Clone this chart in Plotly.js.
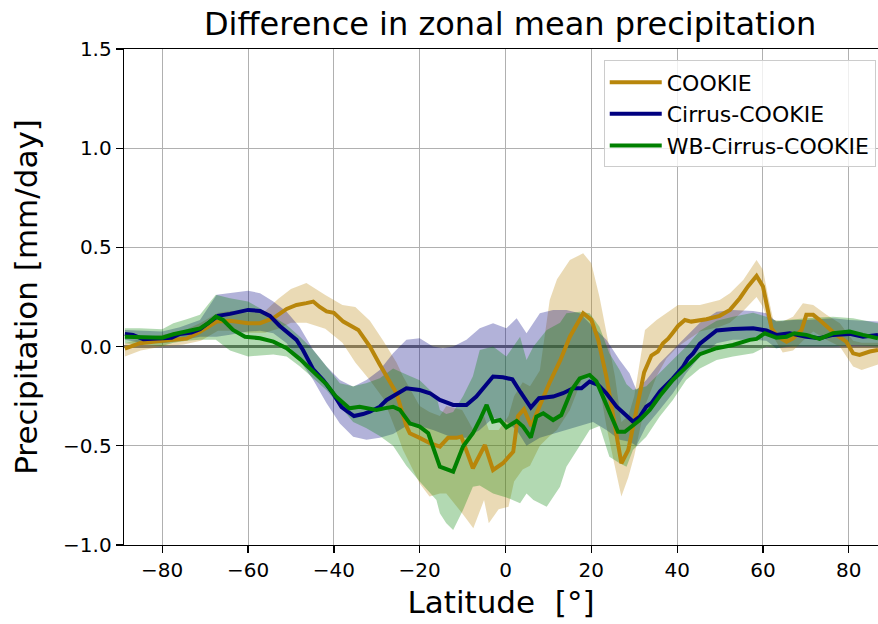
<!DOCTYPE html>
<html>
<head>
<meta charset="utf-8">
<script src="https://cdn.plot.ly/plotly-3.0.1.min.js"></script>
<style>html,body{margin:0;padding:0;background:#fff;}#chart{width:878px;height:624px;}</style>
</head>
<body>
<div id="chart"></div>
<script>
// ---------- DATA ----------
const seriesNames = ["COOKIE", "Cirrus-COOKIE", "WB-Cirrus-COOKIE"];

// COOKIE mean
const latCookie = [-88.7,-85.2,-80,-74.3,-71.2,-67.3,-64.2,-60,-57.2,-54.1,-51,-48.7,-46.4,-44.8,-43.3,-41.7,-40,-37.8,-34.3,-31.6,-29.3,-25.4,-23.1,-22.3,-20,-17.6,-15.3,-13.4,-11.4,-10.3,-7.6,-4.8,-2.9,-0.6,1.8,2.9,4.3,6.0,8.0,10.3,12.8,15.0,18.1,20.0,21.6,23.5,25.5,27.0,28.6,29.7,32.3,34.0,35.5,36.7,37.9,39.0,40.2,41.8,43.3,46.8,49.9,52.3,54.6,56.5,58.5,60.0,61.2,62.0,63.5,65.5,67.0,69.0,70.1,71.7,73.2,75.2,77.1,79.4,81.0,82.5,84.9,86.8];
const valCookie = [-0.01,0.017,0.03,0.04,0.075,0.126,0.13,0.118,0.118,0.143,0.19,0.21,0.219,0.227,0.2,0.177,0.17,0.126,0.084,0.0,-0.09,-0.235,-0.40,-0.437,-0.46,-0.487,-0.504,-0.46,-0.46,-0.454,-0.613,-0.496,-0.622,-0.588,-0.53,-0.35,-0.315,-0.40,-0.297,-0.18,-0.067,0.05,0.168,0.135,0.034,-0.151,-0.40,-0.588,-0.521,-0.40,-0.13,-0.045,-0.025,0.017,0.04,0.07,0.104,0.134,0.126,0.138,0.155,0.185,0.244,0.303,0.356,0.303,0.185,0.092,0.05,0.025,0.042,0.084,0.16,0.16,0.134,0.092,0.059,0.025,-0.034,-0.042,-0.025,-0.017];

// Cirrus-COOKIE mean
const latCirrus = [-88.7,-86.8,-84.4,-80,-77.8,-75.9,-73.2,-71.2,-68.9,-67.0,-64.2,-60,-57.2,-54.9,-52.6,-50.3,-48.7,-47.2,-44.8,-42.5,-40.2,-38.2,-35.3,-33.2,-31.6,-29.3,-27.7,-23.1,-20,-17.6,-15.3,-12.2,-9.1,-6.8,-4.8,-2.9,-0.6,1.6,3.5,5.9,7.8,9.9,11.1,13.4,15.8,17.7,19.6,21.6,23.5,25.9,28.2,29.7,31.3,32.8,34.0,36.0,39.0,41.4,42.5,43.7,45.3,49.2,53.0,57.7,60.8,63.1,66.2,70.1,73.2,76.3,80.2,83.3,86.8];
const valCirrus = [0.064,0.059,0.037,0.039,0.045,0.064,0.071,0.087,0.121,0.155,0.165,0.185,0.18,0.155,0.104,0.059,0.034,-0.017,-0.115,-0.168,-0.235,-0.305,-0.35,-0.34,-0.328,-0.303,-0.269,-0.21,-0.219,-0.235,-0.269,-0.294,-0.294,-0.252,-0.202,-0.151,-0.155,-0.165,-0.23,-0.307,-0.26,-0.252,-0.252,-0.235,-0.21,-0.21,-0.176,-0.193,-0.235,-0.303,-0.345,-0.378,-0.353,-0.303,-0.285,-0.225,-0.16,-0.10,-0.06,-0.034,0.015,0.081,0.089,0.092,0.081,0.059,0.067,0.05,0.042,0.059,0.064,0.05,0.059];

// WB-Cirrus-COOKIE mean
const latWB = [-88.7,-85.2,-80,-77.4,-74.3,-71.2,-69.3,-67.5,-65.8,-63.5,-60.7,-57.2,-54.1,-51,-47.9,-44.8,-41.7,-39.5,-36.4,-34.0,-32.5,-30.1,-28.0,-26.2,-24.6,-22.3,-20,-18.0,-15.3,-12.2,-9.9,-7.6,-6.0,-4.4,-2.9,-1.3,0.2,2.6,4.1,5.9,7.2,8.8,11.1,13.0,15.4,17.3,19.6,21.2,22.7,24.7,26.2,27.8,29.7,31.3,33.6,36.0,39.0,42.2,45.3,49.2,53.0,56.9,58.5,60.4,63.1,65.5,67.3,70.1,73.2,76.3,80.2,83.3,86.8];
const valWB = [0.05,0.05,0.045,0.062,0.076,0.092,0.118,0.151,0.134,0.084,0.05,0.042,0.025,-0.008,-0.063,-0.125,-0.19,-0.252,-0.311,-0.303,-0.311,-0.319,-0.31,-0.303,-0.319,-0.387,-0.403,-0.437,-0.605,-0.63,-0.504,-0.437,-0.37,-0.294,-0.378,-0.37,-0.407,-0.375,-0.403,-0.458,-0.353,-0.336,-0.37,-0.345,-0.219,-0.16,-0.143,-0.176,-0.252,-0.353,-0.429,-0.429,-0.40,-0.37,-0.319,-0.248,-0.168,-0.10,-0.038,-0.008,0.008,0.034,0.039,0.067,0.045,0.05,0.067,0.059,0.039,0.067,0.076,0.059,0.042];

// Spread bands (upper / lower edges)
const bandLatCookie = [-88.7,-85,-80,-75,-71,-67,-64,-60,-56,-53,-50,-46.4,-42,-38,-35,-31.6,-28.5,-25.4,-23.9,-20,-17.7,-15.3,-13.8,-10.1,-7.5,-5,-3.9,-1.6,0.7,2,4,5.7,8,10.3,12,15,18.1,20,21.9,23.5,25.5,27,28.6,30,32.5,35.2,37.5,40.2,45.3,49.9,52.3,55.4,58.5,60,61.2,62.4,64.6,67,69.3,71.7,74.8,77.9,81,83,86.8];
const bandUpCookie = [0.017,0.04,0.06,0.08,0.12,0.17,0.18,0.17,0.18,0.24,0.29,0.32,0.26,0.21,0.20,0.13,0.03,-0.08,-0.15,-0.30,-0.33,-0.35,-0.30,-0.32,-0.42,-0.35,-0.42,-0.42,-0.35,-0.25,-0.18,-0.20,-0.12,0.235,0.34,0.437,0.47,0.42,0.25,0.08,-0.15,-0.38,-0.35,-0.25,0.084,0.134,0.168,0.21,0.21,0.235,0.269,0.336,0.437,0.387,0.252,0.134,0.126,0.151,0.219,0.21,0.16,0.118,0.03,0.02,0.02];
const bandLoCookie = [-0.05,-0.02,0.0,0.01,0.03,0.08,0.08,0.07,0.07,0.09,0.12,0.12,0.09,0.02,-0.08,-0.17,-0.26,-0.43,-0.52,-0.69,-0.756,-0.74,-0.74,-0.84,-0.916,-0.773,-0.89,-0.82,-0.807,-0.68,-0.62,-0.60,-0.50,-0.45,-0.42,-0.32,-0.15,-0.15,-0.2,-0.40,-0.605,-0.756,-0.66,-0.55,-0.30,-0.15,-0.06,0.0,0.076,0.10,0.12,0.18,0.25,0.20,0.13,0.05,-0.03,-0.02,0.03,0.076,0.034,0.0,-0.10,-0.118,-0.09];

const bandLatCirrus = [-88.7,-85,-80,-75.9,-71.2,-67.3,-64.2,-60,-57.2,-54.1,-51,-48,-44.8,-41.7,-38.6,-35.5,-32.4,-29.3,-26.2,-23.1,-20,-16.9,-14.6,-12.2,-9.1,-6,-2.9,0.2,2.6,4.9,8,11.1,14.2,17.3,20.4,23.5,26.6,28.9,30.5,32.8,35.9,39,42.1,45.3,49.2,53,57.7,60.8,63.1,67,70.1,76.3,80.2,86.8];
const bandUpCirrus = [0.084,0.081,0.076,0.098,0.134,0.261,0.269,0.282,0.269,0.227,0.176,0.10,-0.017,-0.10,-0.168,-0.202,-0.168,-0.118,-0.034,0.034,0.042,0.0,-0.008,0.0,0.034,0.092,0.118,0.092,0.143,0.067,0.168,0.185,0.185,0.168,0.10,0.034,-0.067,-0.134,-0.219,-0.168,-0.084,-0.017,0.05,0.12,0.176,0.185,0.18,0.168,0.126,0.134,0.134,0.143,0.134,0.126];
const bandLoCirrus = [0.034,0.02,0.017,0.03,0.05,0.05,0.06,0.076,0.08,0.067,0.017,-0.067,-0.168,-0.286,-0.387,-0.454,-0.47,-0.46,-0.44,-0.40,-0.40,-0.42,-0.44,-0.46,-0.46,-0.42,-0.36,-0.38,-0.42,-0.50,-0.46,-0.44,-0.42,-0.40,-0.38,-0.42,-0.47,-0.48,-0.50,-0.40,-0.32,-0.235,-0.134,-0.05,0.017,0.034,0.034,0.03,-0.008,0.0,0.0,0.0,0.0,0.0];

const bandLatWB = [-88.7,-85.2,-80,-77.4,-74.3,-71.2,-67.5,-64.2,-60,-57.2,-54.1,-51,-47.9,-44.8,-41.7,-38.6,-35.5,-32.5,-29.3,-26.2,-23.1,-20,-16.1,-15.3,-13.8,-12.2,-9.9,-7.6,-6,-2.9,0.2,3.4,4.9,6.5,9.6,12.7,14.2,17.3,19.6,21.9,24.2,26.6,28.2,29.7,32.8,35.9,39,42.1,45.3,49.2,53,57.7,60.8,63.1,65.5,70.1,76.3,81,86.8];
const bandUpWB = [0.092,0.092,0.087,0.118,0.138,0.16,0.261,0.244,0.227,0.193,0.151,0.109,0.05,-0.017,-0.10,-0.185,-0.20,-0.185,-0.16,-0.11,-0.14,-0.17,-0.25,-0.32,-0.34,-0.33,-0.25,-0.15,-0.017,0.0,-0.05,0.05,-0.067,0.0,0.084,0.12,0.168,0.176,0.168,0.10,-0.034,-0.118,-0.19,-0.219,-0.20,-0.134,-0.067,0.0,0.08,0.13,0.15,0.17,0.15,0.13,0.134,0.143,0.151,0.143,0.118];
const bandLoWB = [0.017,0.01,0.003,0.02,0.03,0.034,0.034,-0.02,-0.05,-0.045,-0.04,-0.05,-0.10,-0.16,-0.22,-0.30,-0.38,-0.41,-0.45,-0.50,-0.60,-0.68,-0.773,-0.84,-0.89,-0.924,-0.824,-0.706,-0.70,-0.74,-0.76,-0.79,-0.74,-0.773,-0.807,-0.706,-0.605,-0.50,-0.42,-0.40,-0.555,-0.588,-0.605,-0.521,-0.454,-0.353,-0.269,-0.168,-0.11,-0.067,-0.05,-0.034,0.0,-0.008,0.0,0.0,0.0,0.008,0.0];

const xTickVals = [-80,-60,-40,-20,0,20,40,60,80];
const yTickVals = [-1.0,-0.5,0.0,0.5,1.0,1.5];

// ---------- STYLE ----------
const lineColors = ["#b8860b", "#000080", "#008000"];
const bandColors = ["rgba(184,134,11,0.3)", "rgba(0,0,128,0.3)", "rgba(0,128,0,0.3)"];
const FONT = "DejaVu Sans, Liberation Sans, sans-serif";

function band(lat, up, lo, color) {
  return {
    x: lat.concat(lat.slice().reverse()),
    y: up.concat(lo.slice().reverse()),
    type: "scatter", mode: "lines", fill: "toself",
    fillcolor: color, line: {width: 0, color: color},
    hoverinfo: "skip", showlegend: false
  };
}
function line(lat, val, name, color, grp) {
  return {
    x: lat, y: val, name: name, type: "scatter", mode: "lines",
    line: {color: color, width: 4}, legendgroup: grp
  };
}

const traces = [
  band(bandLatCookie, bandUpCookie, bandLoCookie, bandColors[0]),
  band(bandLatCirrus, bandUpCirrus, bandLoCirrus, bandColors[1]),
  band(bandLatWB, bandUpWB, bandLoWB, bandColors[2]),
  line(latCookie, valCookie, seriesNames[0], lineColors[0], "g1"),
  line(latCirrus, valCirrus, seriesNames[1], lineColors[1], "g2"),
  line(latWB, valWB, seriesNames[2], lineColors[2], "g3")
];

const layout = {
  width: 878, height: 624,
  margin: {l: 124, r: 0, t: 49, b: 79, pad: 0},
  paper_bgcolor: "#fff", plot_bgcolor: "#fff",
  font: {family: FONT, color: "#000"},
  title: {
    text: "Difference in zonal mean precipitation",
    font: {family: FONT, size: 32, color: "#000"},
    xref: "container", x: 0.581, xanchor: "center",
    yref: "container", y: 0.962, yanchor: "middle"
  },
  xaxis: {
    range: [-88.9, 86.8], tickvals: xTickVals,
    showgrid: true, gridcolor: "#b0b0b0", gridwidth: 1,
    zeroline: false,
    showline: true, linecolor: "#000", linewidth: 1.3, mirror: true,
    ticks: "outside", ticklen: 7, tickwidth: 1.3, tickcolor: "#000",
    tickfont: {family: FONT, size: 20, color: "#000"},
    title: {text: "Latitude\u00a0\u00a0[°]", font: {family: FONT, size: 31, color: "#000"}, standoff: 10}
  },
  yaxis: {
    range: [-1.0, 1.5], tickvals: yTickVals, tickformat: ".1f",
    showgrid: true, gridcolor: "#b0b0b0", gridwidth: 1,
    zeroline: true, zerolinecolor: "#777777", zerolinewidth: 2.8,
    showline: true, linecolor: "#000", linewidth: 1.3, mirror: false,
    ticks: "outside", ticklen: 7, tickwidth: 1.3, tickcolor: "#000",
    tickfont: {family: FONT, size: 20, color: "#000"},
    title: {text: "Precipitation [mm/day]", font: {family: FONT, size: 31, color: "#000"}, standoff: 16}
  },
  legend: {
    x: 0.997, xanchor: "right", y: 0.977, yanchor: "top",
    bgcolor: "rgba(255,255,255,0.8)", bordercolor: "#cccccc", borderwidth: 1,
    font: {family: FONT, size: 22, color: "#000"},
    itemwidth: 52,
    traceorder: "grouped", tracegroupgap: 0
  },
  showlegend: true
};

Plotly.newPlot("chart", traces, layout, {staticPlot: true, displayModeBar: false});
</script>
</body>
</html>
